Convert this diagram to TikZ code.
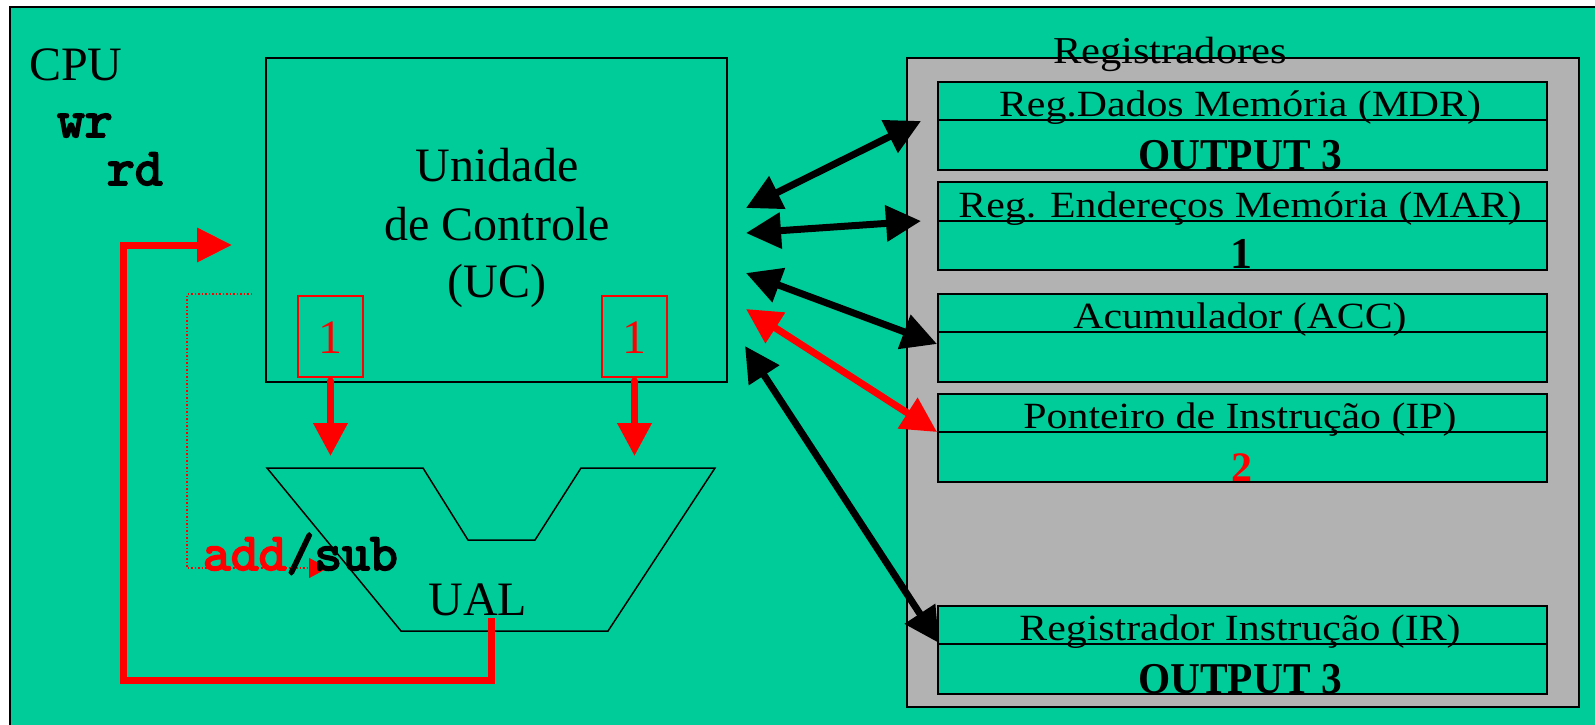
\documentclass[tikz,border=0pt]{standalone}
\usepackage{fontspec}
\usepackage{graphicx}
\setmainfont{Liberation Serif}
\newfontfamily\monobf{lmmono10-regular}[Extension=.otf, FakeBold=3.5]
\usetikzlibrary{arrows.meta}
\definecolor{cgreen}{HTML}{00CC99}
\definecolor{cgray}{HTML}{B2B2B2}
\definecolor{cred}{HTML}{FF0000}
\newcommand{\bigf}{\fontsize{48pt}{56pt}\selectfont}
\newcommand{\regf}{\fontsize{37pt}{42pt}\selectfont}
\newcommand{\valf}{\fontsize{44pt}{52pt}\selectfont\bfseries}
\newcommand{\monob}{\fontsize{53pt}{58pt}\selectfont\monobf}
\newcommand{\rlab}[1]{\regf\scalebox{1.13}[1]{#1}}
\tikzset{
  txt/.style={inner sep=0pt, outer sep=0pt, anchor=base},
  box/.style={draw=black, inner sep=0pt, outer sep=0pt, anchor=north west},
  regbox/.style={box, line width=2pt, fill=cgreen, minimum width=609pt},
  redbox/.style={box, draw=cred, line width=1.5pt, minimum width=65pt, minimum height=81pt},
  bigtip/.style={line width=7pt, {Triangle[length=35pt,width=35pt]}-{Triangle[length=35pt,width=35pt]}},
  downarrow/.style={draw=cred, line width=7pt, line cap=round, -{Triangle[length=33pt,width=33pt]}},
}
\begin{document}
\begin{tikzpicture}[x=1pt,y=-1pt]
\useasboundingbox (0,0) rectangle (1595,724);
\clip (0,0) rectangle (1595,724);
% CPU frame
\node[box, line width=2pt, fill=cgreen, minimum width=1600pt, minimum height=730pt] (cpu) at (10,7) {};
\node[txt, anchor=base west] (cpul) at (29,80) {\bigf CPU};
\node[txt, anchor=base west] (wr) at (57,137) {\monob wr};
\node[txt, anchor=base west] (rd) at (107,185) {\monob rd};
% Control unit
\node[box, line width=1.5pt, minimum width=461pt, minimum height=324pt] (uc) at (266,58) {};
\node[txt] (uc1) at (497,181) {\bigf Unidade};
\node[txt] (uc2) at (497,240) {\bigf de Controle};
\node[txt] (uc3) at (497,297) {\bigf (UC)};
\node[redbox] (r1) at (298,296) {};
\node[redbox] (r2) at (602,296) {};
\node[txt, text=cred] (r1t) at (330.5,353) {\bigf 1};
\node[txt, text=cred] (r2t) at (634.5,353) {\bigf 1};
% ALU
\draw[line width=1.5pt, line join=miter] (267,468) -- (423,468) -- (468,540) -- (535,540) -- (581,468) -- (715,468) -- (608,631) -- (401,631) -- cycle;
\coordinate (ualtop1) at (330.5,456);
\coordinate (ualtop2) at (634.5,456);
\coordinate (ualbot) at (491,618);
\node[txt] (ual) at (478,615) {\bigf UAL};
\draw[downarrow] (r1.south |- 0,381) -- (ualtop1);
\draw[downarrow] (r2.south |- 0,381) -- (ualtop2);
% dotted control line
\coordinate (dotstart) at (252,294);
\coordinate (dottip) at (328,568);
\draw[cred, line width=1.5pt, dash pattern=on 1.5pt off 2pt, -{Triangle[length=19pt,width=20pt]}] (dotstart) -- (187,294) -- (187,568) -- (dottip);
\node[txt, anchor=base west] (addsub) at (203,570) {\monob\textcolor{cred}{add}/sub};
% feedback
\coordinate (fbtip) at (232,245);
\draw[cred, line width=7pt, line join=miter, -{Triangle[length=35pt,width=33pt]}] (ualbot) -- (491,680) -- (123,680) -- (123,245) -- (fbtip);
% Registers
\node[box, line width=2pt, fill=cgray, minimum width=672pt, minimum height=649pt] (regs) at (907,58) {};
\node[txt] (regsl) at (1170,63) {\fontsize{38pt}{42pt}\selectfont\scalebox{1.12}[1]{Registradores}};
% MDR
\node[regbox, minimum height=88pt] (mdr) at (938,82) {};
\draw[line width=2pt] (938,120) -- (1547,120);
\node[txt] (mdrl) at (1240,116) {\rlab{Reg.Dados Memória (MDR)}};
\node[txt] (mdrv) at (1240,169) {\valf\scalebox{0.94}[1]{OUTPUT 3}};
% MAR
\node[regbox, minimum height=88pt] (mar) at (938,182) {};
\draw[line width=2pt] (938,221) -- (1547,221);
\node[txt] (marl) at (1240,217) {\rlab{Reg. Endereços Memória (MAR)}};
\node[txt] (marv) at (1241.5,268) {\fontsize{44pt}{50pt}\selectfont\bfseries 1};
% ACC
\node[regbox, minimum height=88pt] (acc) at (938,294) {};
\draw[line width=2pt] (938,332) -- (1547,332);
\node[txt] (accl) at (1240,328) {\rlab{Acumulador (ACC)}};
% IP
\node[regbox, minimum height=88pt] (ip) at (938,394) {};
\draw[line width=2pt] (938,432) -- (1547,432);
\node[txt] (ipl) at (1240,428) {\rlab{Ponteiro de Instrução (IP)}};
\node[txt, text=cred] (ipv) at (1241.5,481) {\fontsize{42pt}{50pt}\selectfont\bfseries 2};
% IR
\node[regbox, minimum height=88pt] (ir) at (938,606) {};
\draw[line width=2pt] (938,644) -- (1547,644);
\node[txt] (irl) at (1240,640) {\rlab{Registrador Instrução (IR)}};
\node[txt] (irv) at (1240,693) {\valf\scalebox{0.94}[1]{OUTPUT 3}};
% bus arrows
\coordinate (ucA) at (746,208); \coordinate (mdrA) at (921,121);
\coordinate (ucB) at (746,233); \coordinate (marA) at (921,221);
\coordinate (ucC) at (746,273); \coordinate (accA) at (937,344);
\coordinate (ucD) at (746,309); \coordinate (ipA) at (937,432);
\coordinate (ucE) at (745,346); \coordinate (irA) at (939,643);
\draw[bigtip] (ucA) -- (mdrA);
\draw[bigtip] (ucB) -- (marA);
\draw[bigtip] (ucC) -- (accA);
\draw[bigtip, draw=cred, fill=cred] (ucD) -- (ipA);
\draw[bigtip] (ucE) -- (irA);
\end{tikzpicture}
\end{document}
